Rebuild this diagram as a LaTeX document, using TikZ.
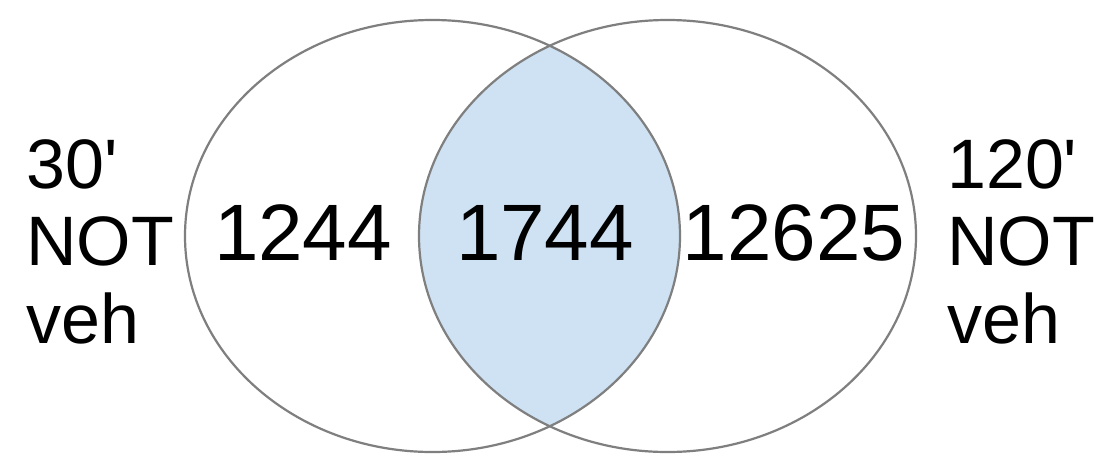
\documentclass[tikz,border=0pt]{standalone}
\usepackage{fontspec}
\setmainfont{Liberation Sans}
\definecolor{vennline}{HTML}{7F7F7F}
\definecolor{vennfill}{HTML}{CFE2F3}
\begin{document}
\begin{tikzpicture}[x=1pt,y=-1pt,
  setline/.style={draw=vennline,line width=2.2pt},
  numtext/.style={font=\fontsize{80}{90}\selectfont,inner sep=0pt,anchor=base},
  labtext/.style={font=\fontsize{70}{78}\selectfont,inner sep=0pt,anchor=base west}]
\useasboundingbox (0,0) rectangle (1097,453);
\fill[white] (0,0) rectangle (1097,453);
\coordinate (cl) at (432.5,236);
\coordinate (cr) at (667.5,236);
\begin{scope}
  \clip (cl) ellipse [x radius=247.5, y radius=216];
  \fill[vennfill] (cr) ellipse [x radius=248.5, y radius=216];
\end{scope}
\draw[setline] (cl) ellipse [x radius=247.5, y radius=216];
\draw[setline] (cr) ellipse [x radius=248.5, y radius=216];
\node[numtext] (nleft) at (303,260) {1244};
\node[numtext] (nmid) at (545,260) {1744};
\node[numtext] (nright) at (794,260) {12625};
\node[labtext] (l1) at (26,188) {30\textquotesingle};
\node[labtext] (l2) at (26,265) {NOT};
\node[labtext] (l3) at (26,343) {veh};
\node[labtext] (r1) at (947,188) {120\textquotesingle};
\node[labtext] (r2) at (947,265) {NOT};
\node[labtext] (r3) at (947,343) {veh};
\end{tikzpicture}
\end{document}
